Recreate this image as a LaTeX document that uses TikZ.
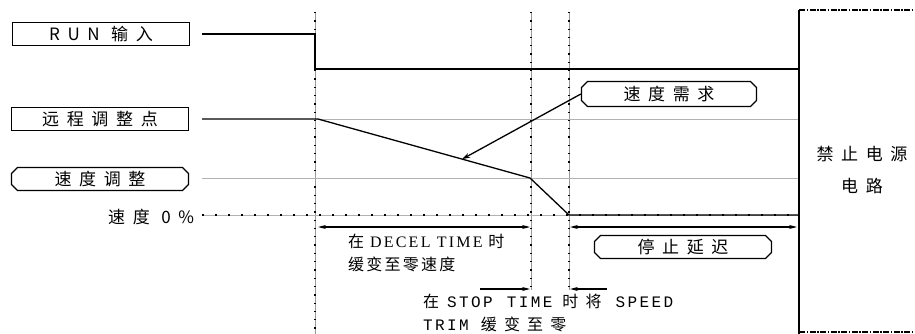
\documentclass[tikz,border=0pt]{standalone}
\usepackage{fontspec}
\newfontfamily\cjkbox[LetterSpace=45]{Noto Sans CJK SC}
\newfontfamily\cjknote[LetterSpace=14]{Noto Sans CJK SC}
\newfontfamily\latnote[LetterSpace=14]{Liberation Serif}
\newfontfamily\latmono[LetterSpace=15]{Liberation Mono}
\usetikzlibrary{positioning,arrows.meta,shapes.misc,calc}

\begin{document}
\begin{tikzpicture}[x=1pt,y=-1pt,
    sigbox/.style={draw,line width=1.3pt,minimum width=177pt,minimum height=23pt,inner sep=0pt,font=\cjkbox\fontsize{17}{19}\selectfont},
    chambox/.style={sigbox,chamfered rectangle,chamfered rectangle xsep=3pt,chamfered rectangle ysep=3pt},
    wave/.style={line width=1.3pt},
    level/.style={draw=black!30,line width=0.8pt},
    zero/.style={draw=black!30,line width=0.8pt,postaction={draw=black,line width=2pt,dash pattern=on 2pt off 11pt}},
    tline/.style={draw=black!40,line width=0.6pt,postaction={draw=black,line width=1.3pt,dash pattern=on 1.3pt off 7pt}},
    span/.style={{Stealth[length=8pt,width=4pt]}-{Stealth[length=8pt,width=4pt]},line width=1.2pt},
    tip/.style={-{Stealth[length=8pt,width=4pt]},line width=1.2pt},
    edge/.style={line width=1.5pt,dash pattern=on 6pt off 1.5pt on 1.5pt off 1.5pt},
    note/.style={align=left,anchor=west,inner sep=0pt,font=\cjknote\fontsize{16}{23}\selectfont},
]
\useasboundingbox (0,0) rectangle (915,334);

% signal names
\node[sigbox] (run)    at (101,34)  {RUN 输入};
\node[sigbox] (remote) at (100,119) {远程调整点};
\node[chambox] (trim)  at (100,179) {速度调整};
\node[anchor=west,inner sep=0pt,font=\cjkbox\fontsize{17}{19}\selectfont] (zero) at (108,217) {速度 0\%};
\node[chambox,minimum width=175pt,minimum height=25pt] (demand) at (669,94) {速度需求};
\node[chambox] (delay) at (683,247) {停止延迟};
\node[align=center,font=\cjkbox\fontsize{17}{32}\selectfont] (inh) at (862,170) {禁止电源\\电路};

% time marks
\coordinate (tA) at (315,12);
\coordinate (tB) at (531,12);
\coordinate (tC) at (569,12);
\coordinate (tD) at (799,10);
\coordinate (r0) at (318,119);
\coordinate (r1) at (530,178);
\coordinate (r2) at (569,215);

\draw[tline] (tA) -- (315,334);
\draw[tline] (tB) -- (531,290);
\draw[tline] (tC) -- (569,290);

% levels
\draw[level] (tA |- r0) -- (tD |- r0);
\draw[level] (202,178) -- (tD |- r1);
\draw[zero] (202,215) -- (tD |- r2);

% waveforms
\draw[wave] ($(run.east)+(12,0)$) -| (315,69) -- (tD |- 0,69);
\draw[wave] ($(remote.east)+(13,0)$) -- (r0) -- (r1) -- (r2) -- (tD |- r2);
\draw[wave,-{Stealth[length=8pt,width=5pt]}] (demand.west) -- ($(r0)!0.68!(r1)$);

% timings
\draw[span] (318,227) -- (530,227);
\draw[span] (570,227) -- (797,227);
\node[note] (decel) at (348,253) {在 {\latnote DECEL TIME} 时\\缓变至零速度};
\draw[tip] (480,289) -- (530,289);
\draw[tip] (607,289) -- (570,289);
\node[note] (stop) at (423,313) {在\kern8pt{\latmono STOP}\kern14pt{\latmono TIME}\kern10pt{\cjkbox 时将}\kern14pt{\latmono SPEED}\\{\latmono TRIM}\kern12pt{\cjkbox 缓变至零}};

% inhibit block
\draw[line width=1.3pt] (tD) -- (799,334);
\draw[edge] (tD) -- (915,10);
\draw[edge] (799,332) -- (915,332);
\end{tikzpicture}
\end{document}
